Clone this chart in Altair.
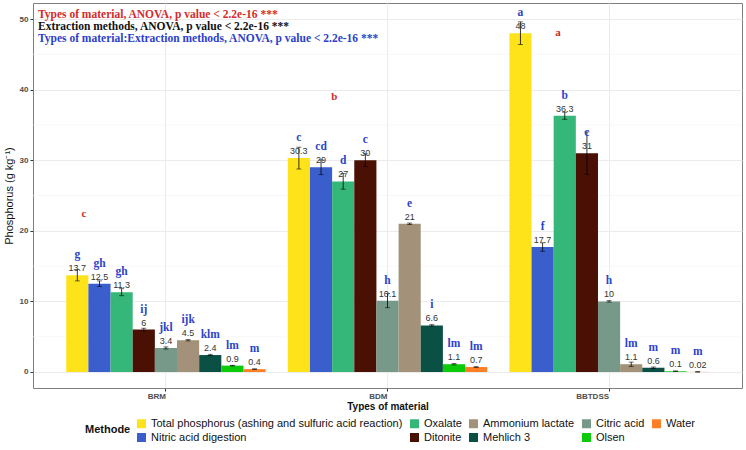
import altair as alt
import pandas as pd

# --- data -----------------------------------------------------------------
materials = ["BRM", "BDM", "BBTDSS"]
methods = [
    "Total phosphorus (ashing and sulfuric acid reaction)",
    "Nitric acid digestion",
    "Oxalate",
    "Ditonite",
    "Citric acid",
    "Ammonium lactate",
    "Mehlich 3",
    "Olsen",
    "Water",
]
method_colors = [
    "#FFE31A", "#3A5FCD", "#35B779", "#4A1004", "#76998A",
    "#A39279", "#0B5045", "#0BCB0B", "#FF7F24",
]

brm_mean = [13.7, 12.5, 11.3, 6, 3.4, 4.5, 2.4, 0.9, 0.4]
bdm_mean = [30.3, 29, 27, 30, 10.1, 21, 6.6, 1.1, 0.7]
bbtdss_mean = [48, 17.7, 36.3, 31, 10, 1.1, 0.6, 0.1, 0.02]

brm_sd = [0.8, 0.4, 0.5, 0.2, 0.15, 0.1, 0.1, 0.05, 0.05]
bdm_sd = [1.55, 1.05, 1.1, 0.9, 1.0, 0.1, 0.1, 0.1, 0.05]
bbtdss_sd = [1.6, 0.6, 0.5, 3.0, 0.1, 0.3, 0.1, 0.05, 0.05]

brm_letters = ["g", "gh", "gh", "ij", "jkl", "ijk", "klm", "lm", "m"]
bdm_letters = ["c", "cd", "d", "c", "h", "e", "i", "lm", "lm"]
bbtdss_letters = ["a", "f", "b", "c", "h", "lm", "m", "m", "m"]

# grouping letters for the material main effect
material_letters = ["c", "b", "a"]
material_letter_x = [-0.37, 0.76, 1.77]
material_letter_y = [22.4, 39.0, 48.0]

anova_lines = [
    ("Types of  material, ANOVA, p value < 2.2e-16 ***", "#D42B2B"),
    ("Extraction methods, ANOVA, p value < 2.2e-16 ***", "#111111"),
    ("Types of  material:Extraction methods, ANOVA, p value < 2.2e-16 ***", "#2B3FCC"),
]

minor_grid = [5, 15, 25, 35, 45]

# legend entries run down two rows, column by column
legend_order = [methods[i] for i in (0, 1, 2, 3, 5, 6, 4, 7, 8)]
color_of = dict(zip(methods, method_colors))

rows = []
for mat, means, sds, lets in zip(
    materials,
    [brm_mean, bdm_mean, bbtdss_mean],
    [brm_sd, bdm_sd, bbtdss_sd],
    [brm_letters, bdm_letters, bbtdss_letters],
):
    for k, m in enumerate(methods):
        rows.append(
            dict(
                Material=mat,
                Method=m,
                value=means[k],
                lo=means[k] - sds[k],
                hi=means[k] + sds[k],
                label=f"{means[k]:g}",
                letter=lets[k],
            )
        )
df = pd.DataFrame(rows)

# --- encodings ------------------------------------------------------------
Y_DOMAIN = [-2.27, 52.27]
Y_TITLE = "Phosphorus (g kg\u207b\u00b9)"

x_enc = alt.X(
    "Material:N",
    sort=materials,
    scale=alt.Scale(paddingInner=0.1, paddingOuter=0.15),
    axis=alt.Axis(
        title="Types of material",
        labelAngle=0,
        labelAlign="right",
        labelFontSize=8,
        labelFontWeight="bold",
        labelColor="#4D4D4D",
        labelPadding=1,
        tickColor="#333333",
        tickSize=3,
        domain=False,
        grid=True,
        gridColor="#EBEBEB",
        titleFontSize=10,
        titleFontWeight="bold",
        titleColor="#111111",
        titlePadding=1,
    ),
)
xo_enc = alt.XOffset("Method:N", sort=methods, scale=alt.Scale(paddingInner=0, paddingOuter=0))


def y_enc(field):
    return alt.Y(
        f"{field}:Q",
        scale=alt.Scale(domain=Y_DOMAIN, nice=False, zero=False),
        axis=alt.Axis(
            title=Y_TITLE,
            values=[0, 10, 20, 30, 40, 50],
            labelFontSize=8,
            labelFontWeight="bold",
            labelColor="#4D4D4D",
            labelPadding=2,
            tickColor="#333333",
            tickSize=3,
            domain=False,
            grid=True,
            gridColor="#EBEBEB",
            titleFontSize=11,
            titleFontWeight="normal",
            titleColor="#111111",
            titlePadding=5,
        ),
    )


base = alt.Chart(df)

minor = (
    alt.Chart(pd.DataFrame({"value": minor_grid}))
    .mark_rule(color="#F3F3F3", strokeWidth=0.6)
    .encode(y=y_enc("value"))
)

bars = base.mark_bar().encode(
    x=x_enc,
    xOffset=xo_enc,
    y=y_enc("value"),
    y2=alt.datum(0),
    color=alt.Color(
        "Method:N",
        scale=alt.Scale(domain=legend_order, range=[color_of[m] for m in legend_order]),
        legend=alt.Legend(
            title="Methode",
            orient="none",
            legendX=52,
            legendY=415,
            columns=5,
            titleOrient="left",
            titleAnchor="middle",
            titleBaseline="middle",
            titleFontSize=11,
            titleFontWeight="bold",
            titleColor="#111111",
            titlePadding=5,
            labelFontSize=11,
            labelColor="#111111",
            labelLimit=400,
            labelOffset=4,
            symbolType="square",
            symbolSize=81,
            symbolStrokeWidth=0,
            symbolOpacity=1,
            columnPadding=6,
            rowPadding=2,
        ),
    ),
)

err = base.mark_rule(color="black", strokeWidth=0.8).encode(
    x=x_enc, xOffset=xo_enc, y=y_enc("lo"), y2="hi:Q"
)
cap_hi = base.mark_tick(color="black", size=5, thickness=0.8).encode(
    x=x_enc, xOffset=xo_enc, y=y_enc("hi")
)
cap_lo = base.mark_tick(color="black", size=5, thickness=0.8).encode(
    x=x_enc, xOffset=xo_enc, y=y_enc("lo")
)

values = base.mark_text(
    fontSize=9, color="#333333", baseline="bottom", dy=-2, font="Liberation Sans"
).encode(x=x_enc, xOffset=xo_enc, y=y_enc("value"), text="label:N")

letters = base.mark_text(
    fontSize=11.5,
    font="Liberation Serif",
    fontWeight="bold",
    color="#2C44C8",
    baseline="bottom",
    dy=-15,
).encode(x=x_enc, xOffset=xo_enc, y=y_enc("value"), text="letter:N")

bar_layer = alt.layer(minor, bars, err, cap_hi, cap_lo, values, letters)

# material letters sit on a continuous copy of the group axis
mat_df = pd.DataFrame(
    {"pos": material_letter_x, "value": material_letter_y, "letter": material_letters}
)
mat_text = (
    alt.Chart(mat_df)
    .mark_text(
        fontSize=11,
        font="Liberation Serif",
        fontWeight="bold",
        color="#CC2B2B",
        baseline="middle",
    )
    .encode(
        x=alt.X("pos:Q", scale=alt.Scale(domain=[-0.6, 2.6], nice=False, zero=False), axis=None),
        y=y_enc("value"),
        text="letter:N",
    )
)

anova_marks = []
for i, (line, col) in enumerate(anova_lines):
    anova_marks.append(
        alt.Chart(pd.DataFrame({"t": [line]}))
        .mark_text(
            font="Liberation Serif",
            fontWeight="bold",
            fontSize=11.5,
            color=col,
            align="left",
            baseline="middle",
        )
        .encode(text="t:N", x=alt.value(5), y=alt.value(12 + 12 * i))
    )

chart = (
    alt.layer(bar_layer, mat_text, *anova_marks)
    .resolve_scale(x="independent")
    .properties(
        width=709,
        height=385,
        autosize=alt.AutoSizeParams(type="none"),
        padding={"left": 33, "top": 3, "right": 4, "bottom": 62},
        background="white",
    )
    .configure(font="Liberation Sans")
    .configure_view(stroke="#7F7F7F", strokeWidth=1)
)

chart.save("out.html", embed_options={"renderer": "svg", "actions": False})
